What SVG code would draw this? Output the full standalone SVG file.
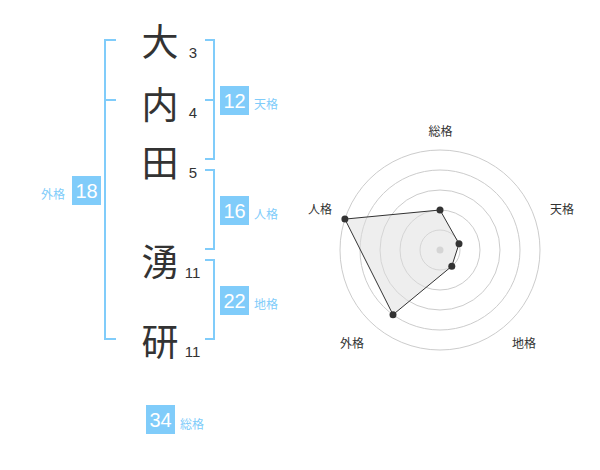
<svg xmlns="http://www.w3.org/2000/svg" width="600" height="470" viewBox="0 0 600 470">
<style>
.kanji{font-family:"Noto Sans CJK JP","Noto Sans CJK SC",sans-serif;font-size:37px;fill:#333;text-anchor:middle;dominant-baseline:central}
.num{font-family:"Liberation Sans",Arial,sans-serif;font-size:15px;fill:#333;text-anchor:middle}
.br{fill:none;stroke:#80ccfa;stroke-width:2}
.badge{fill:#80ccfa}
.bnum{font-family:"Liberation Sans",Arial,sans-serif;font-size:20px;fill:#fff;text-anchor:middle;dominant-baseline:central}
.blab{font-family:"Noto Sans CJK JP",sans-serif;font-size:12px;fill:#80ccfa;dominant-baseline:central}
.ring{fill:none;stroke:#ccc;stroke-width:1}
.rlab{font-family:"Noto Sans CJK JP",sans-serif;font-size:12px;fill:#333;text-anchor:middle;dominant-baseline:central}
.pt{fill:#333}
</style>
<rect width="600" height="470" fill="#fff"/>
<g id="connectors">
<path class="br" d="M116,40 H105 V339 H116 M105,100 H116"/>
<path class="br" d="M205,40 H214 V159 H205 M205,100 H214"/>
<path class="br" d="M205,170 H214 V249 H205"/>
<path class="br" d="M205,260 H214 V339 H205"/>
</g>
<g id="char-dai"><text class="kanji" x="160" y="40">大</text><text class="num" x="193" y="58">3</text></g>
<g id="char-uchi"><text class="kanji" x="160" y="103">内</text><text class="num" x="193" y="118">4</text></g>
<g id="char-ta"><text class="kanji" x="160" y="161">田</text><text class="num" x="193" y="178">5</text></g>
<g id="char-yuu"><text class="kanji" x="160" y="260">湧</text><text class="num" x="192.5" y="278">11</text></g>
<g id="char-ken"><text class="kanji" x="160" y="340">研</text><text class="num" x="192.5" y="357">11</text></g>
<g id="tenkaku"><rect class="badge" x="220" y="86" width="29" height="29"/><text class="bnum" x="234.5" y="101">12</text><text class="blab" x="254" y="103">天格</text></g>
<g id="jinkaku"><rect class="badge" x="220" y="196" width="29" height="29"/><text class="bnum" x="234.5" y="211">16</text><text class="blab" x="254" y="213">人格</text></g>
<g id="chikaku"><rect class="badge" x="220" y="286" width="29" height="29"/><text class="bnum" x="234.5" y="301">22</text><text class="blab" x="254" y="303">地格</text></g>
<g id="gaikaku"><rect class="badge" x="72" y="176" width="29" height="29"/><text class="bnum" x="86.5" y="191">18</text><text class="blab" x="41" y="193">外格</text></g>
<g id="soukaku"><rect class="badge" x="146" y="405" width="29" height="29"/><text class="bnum" x="160.5" y="420">34</text><text class="blab" x="180" y="423">総格</text></g>
<g id="radar">
<circle class="ring" cx="440" cy="250" r="20"/>
<circle class="ring" cx="440" cy="250" r="40"/>
<circle class="ring" cx="440" cy="250" r="60"/>
<circle class="ring" cx="440" cy="250" r="80"/>
<circle class="ring" cx="440" cy="250" r="100"/>
<circle cx="440" cy="250" r="3.5" fill="#ccc"/>
<polygon points="440,210 459,243.8 451.8,266.2 393,314.7 344.9,219.1" fill="#ddd" fill-opacity="0.5" stroke="#333" stroke-width="1"/>
<circle class="pt" cx="440" cy="210" r="3.5"/>
<circle class="pt" cx="459" cy="243.8" r="3.5"/>
<circle class="pt" cx="451.8" cy="266.2" r="3.5"/>
<circle class="pt" cx="393" cy="314.7" r="3.5"/>
<circle class="pt" cx="344.9" cy="219.1" r="3.5"/>
<text class="rlab" x="440.5" y="130">総格</text>
<text class="rlab" x="562" y="208">天格</text>
<text class="rlab" x="524" y="342">地格</text>
<text class="rlab" x="352" y="342">外格</text>
<text class="rlab" x="320" y="208">人格</text>
</g>
</svg>
